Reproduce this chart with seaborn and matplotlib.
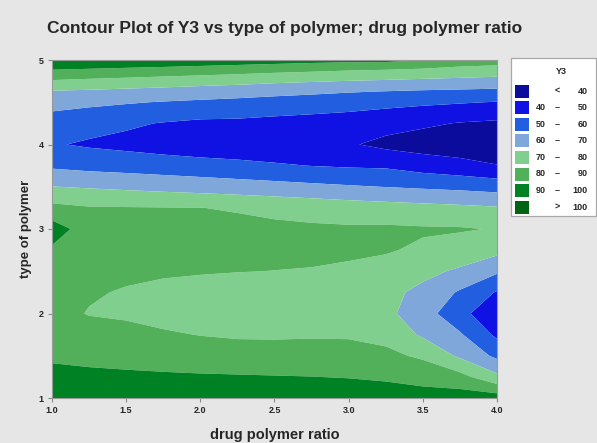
import numpy as np
import matplotlib
matplotlib.use("Agg")
import matplotlib.pyplot as plt
import seaborn as sns
from matplotlib.patches import Rectangle

# ---------------- data ----------------
drug_polymer_ratio = [1.0, 1.25, 1.5, 1.75, 2.0, 2.25, 2.5, 2.75, 3.0, 3.25, 3.5, 3.75, 4.0]
type_of_polymer = [5.0, 4.875, 4.75, 4.625, 4.5, 4.25, 4.0, 3.75, 3.5, 3.25, 3.0,
                   2.75, 2.5, 2.25, 2.0, 1.75, 1.5, 1.25, 1.0]
# Y3 response surface, one row per type_of_polymer value (top to bottom)
y3 = [
    [98.0, 98.5, 98.0, 97.5, 96.4, 95.6, 94.6, 93.5, 92.8, 92.6, 90.5, 86.0, 85.0],
    [89.3, 88.3, 87.2, 86.1, 85.0, 83.7, 82.3, 81.2, 80.0, 79.0, 77.7, 76.4, 75.1],
    [79.0, 77.7, 76.6, 75.3, 74.1, 73.0, 71.7, 70.7, 69.7, 68.8, 67.9, 67.1, 66.3],
    [69.1, 68.3, 67.3, 66.4, 65.3, 64.4, 63.1, 61.9, 60.6, 59.6, 58.7, 58.1, 57.5],
    [63.3, 62.1, 60.8, 59.5, 58.4, 57.3, 56.0, 54.9, 53.8, 52.8, 51.7, 50.7, 49.6],
    [55.7, 53.4, 51.4, 49.5, 48.0, 47.9, 47.0, 46.3, 45.5, 43.5, 41.5, 39.5, 38.3],
    [50.8, 48.8, 47.4, 45.8, 44.5, 44.0, 43.2, 42.2, 41.0, 37.5, 35.5, 34.2, 33.0],
    [58.3, 56.7, 55.7, 54.6, 53.5, 52.4, 51.1, 49.8, 48.9, 48.5, 45.5, 43.3, 40.4],
    [70.2, 69.1, 68.0, 66.8, 65.6, 64.4, 63.3, 62.1, 60.9, 59.8, 58.6, 57.5, 56.0],
    [82.7, 80.7, 80.5, 80.3, 80.1, 79.3, 77.9, 76.6, 75.2, 74.1, 73.1, 72.1, 70.9],
    [95.0, 85.0, 82.9, 82.8, 82.5, 82.2, 81.8, 81.4, 81.2, 81.5, 81.0, 80.8, 79.5],
    [88.5, 86.0, 84.6, 83.7, 83.0, 82.5, 82.1, 81.7, 81.3, 80.8, 78.5, 75.9, 72.9],
    [86.4, 83.6, 82.0, 81.2, 80.6, 80.2, 79.9, 79.6, 78.8, 76.7, 72.5, 68.5, 61.5],
    [83.6, 81.0, 79.2, 77.7, 77.1, 76.3, 75.7, 75.4, 74.9, 72.8, 67.5, 58.8, 49.2],
    [83.2, 79.5, 78.6, 76.6, 75.8, 74.7, 74.4, 74.7, 74.9, 72.4, 64.3, 53.2, 42.1],
    [86.0, 84.2, 82.8, 81.2, 79.7, 78.8, 78.7, 79.0, 78.9, 77.1, 68.5, 61.1, 48.0],
    [88.8, 87.9, 87.1, 86.2, 85.3, 84.5, 84.2, 84.4, 84.0, 82.3, 78.4, 68.3, 57.8],
    [92.2, 91.8, 91.5, 91.2, 90.9, 90.7, 90.4, 90.1, 89.6, 88.6, 86.7, 83.3, 72.4],
    [96.0, 96.0, 96.0, 96.0, 96.0, 96.0, 96.0, 96.0, 95.5, 95.0, 94.0, 95.0, 95.0],
]
level_bounds = [40, 50, 60, 70, 80, 90, 100]
band_colors = ["#0b0b9c", "#0f12e2", "#215fe0", "#7fa7d9",
               "#80cf8e", "#52b05b", "#008124", "#006412"]
x_ticks = [1.0, 1.5, 2.0, 2.5, 3.0, 3.5, 4.0]
y_ticks = [1, 2, 3, 4, 5]
title = "Contour Plot of Y3 vs type of polymer; drug polymer ratio"
x_label = "drug polymer ratio"
y_label = "type of polymer"
legend_title = "Y3"

# ---------------- styling ----------------
sns.set_theme(style="white")
plt.rcParams["font.family"] = ["Liberation Sans", "DejaVu Sans"]
bg = "#e6e6e6"

W, H = 597, 443
fig = plt.figure(figsize=(W / 100, H / 100), dpi=100, facecolor=bg)
ax = fig.add_axes([52 / W, 1 - 398 / H, 445 / W, 338 / H])

X, Y = np.meshgrid(np.array(drug_polymer_ratio), np.array(type_of_polymer))
Z = np.array(y3)
levels = [-1000] + level_bounds + [1000]
ax.contourf(X, Y, Z, levels=levels, colors=band_colors, antialiased=True)

ax.set_xlim(1.0, 4.0)
ax.set_ylim(1, 5)
ax.set_xticks(x_ticks)
ax.set_xticklabels([f"{v:.1f}" for v in x_ticks])
ax.set_yticks(y_ticks)
ax.set_yticklabels([str(v) for v in y_ticks])
ax.tick_params(axis="both", which="major", direction="out", length=3, width=0.8,
               color="#8a8a8a", labelsize=6.5, pad=3, bottom=True, left=True)
for lbl in ax.get_xticklabels() + ax.get_yticklabels():
    lbl.set_fontweight("bold")
for sp in ax.spines.values():
    sp.set_color("#9a9a9a")
    sp.set_linewidth(0.8)

ax.set_xlabel(x_label, fontsize=10.5, fontweight="bold", labelpad=9)
ax.set_ylabel(y_label, fontsize=9.5, fontweight="bold", labelpad=5)
fig.text(285 / W, 1 - 28 / H, title, ha="center", va="center", fontsize=12.5,
         fontweight="bold")

# ---------------- legend (drawn in figure pixels) ----------------
def fx(px):
    return px / W

def fy(py):
    return 1 - py / H

fig.patches.append(Rectangle((fx(511), fy(216)), fx(596) - fx(511), fy(58) - fy(216),
                             transform=fig.transFigure, facecolor="white",
                             edgecolor="#a8a8a8", linewidth=0.9, zorder=1))
fig.text(fx(561), fy(72), legend_title, ha="center", va="center", fontsize=6.5,
         fontweight="bold", zorder=3)
row0, step = 91, 16.6
n_bands = len(band_colors)
for i in range(n_bands):
    yc = row0 + i * step
    fig.patches.append(Rectangle((fx(515), fy(yc + 6.5)), fx(529) - fx(515), fy(yc - 6.5) - fy(yc + 6.5),
                                 transform=fig.transFigure, facecolor=band_colors[i],
                                 edgecolor="none", zorder=2))
    if i == 0:
        lo, dash, hi = "", "<", str(level_bounds[0])
    elif i == n_bands - 1:
        lo, dash, hi = "", ">", str(level_bounds[-1])
    else:
        lo, dash, hi = str(level_bounds[i - 1]), "\u2013", str(level_bounds[i])
    kw = dict(va="center", fontsize=6.5, fontweight="bold", zorder=3)
    fig.text(fx(546), fy(yc), lo, ha="right", **kw)
    fig.text(fx(557), fy(yc), dash, ha="center", **kw)
    fig.text(fx(588), fy(yc), hi, ha="right", **kw)

fig.savefig("out.png", dpi=100, facecolor=bg)
